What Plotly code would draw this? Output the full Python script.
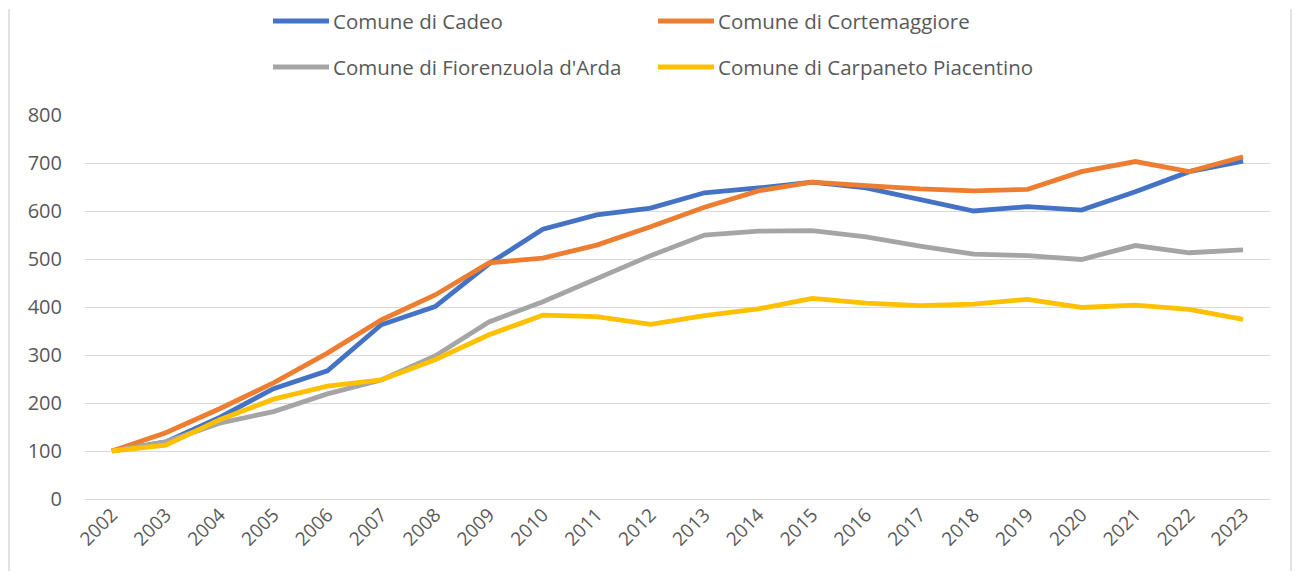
import plotly.graph_objects as go

years = [str(y) for y in range(2002, 2024)]

cadeo = [100, 119, 170, 230, 267, 363, 401, 490, 562, 592, 606, 638, 648, 660, 648, 624, 600, 609, 602, 640, 682, 704]
cortemaggiore = [100, 138, 188, 242, 304, 373, 425, 492, 502, 529, 567, 608, 642, 660, 653, 646, 642, 645, 682, 703, 682, 713]
fiorenzuola = [100, 119, 158, 182, 219, 248, 298, 369, 411, 460, 507, 550, 558, 559, 546, 527, 510, 507, 499, 528, 513, 519]
carpaneto = [100, 112, 165, 208, 235, 248, 290, 342, 383, 380, 364, 382, 396, 418, 408, 403, 406, 416, 399, 404, 395, 374]

names = ["Comune di Cadeo", "Comune di Cortemaggiore",
         "Comune di Fiorenzuola d'Arda", "Comune di Carpaneto Piacentino"]
series = [cadeo, cortemaggiore, fiorenzuola, carpaneto]
colors = ["#4472C4", "#ED7D31", "#A5A5A5", "#FFC000"]

FONT = "Open Sans, Lato, sans-serif"
TXT = "#595959"

OFF = 8  # page body margin
W, H = 1301 - 2 * OFF, 580 - 2 * OFF
L, T = 85 - OFF, 115 - OFF
R = W - (1270 - OFF)
B = H - (499 - OFF)
PW, PH = W - L - R, H - T - B

def px(x):  # reference page x -> paper
    return (x - OFF - L) / PW

def py(y):  # reference page y -> paper
    return (H - B - (y - OFF)) / PH

fig = go.Figure()
for name, vals, col in zip(names, series, colors):
    fig.add_trace(go.Scatter(x=years, y=vals, name=name, mode="lines",
                             line=dict(color=col, width=4.8), showlegend=False))

# manual legend (two rows, two columns)
legend_pos = [(273, 21), (658, 21), (273, 67), (658, 67)]
shapes = []
annotations = []
for (lx, ly), name, col in zip(legend_pos, names, colors):
    shapes.append(dict(type="line", xref="paper", yref="paper",
                       x0=px(lx), x1=px(lx + 56), y0=py(ly), y1=py(ly),
                       line=dict(color=col, width=5)))
    annotations.append(dict(text=name, xref="paper", yref="paper",
                            x=px(lx + 58), y=py(ly), xanchor="left", yanchor="middle",
                            showarrow=False, font=dict(family=FONT, size=20.5, color=TXT)))

# outer chart border (left and right edges visible)
for bx in (9, 1291):
    shapes.append(dict(type="line", xref="paper", yref="paper",
                       x0=px(bx), x1=px(bx), y0=py(571), y1=py(9),
                       line=dict(color="#D9D9D9", width=1.5), layer="above"))

fig.update_layout(
    width=W, height=H,
    margin=dict(l=L, r=R, t=T, b=B, autoexpand=False),
    paper_bgcolor="white", plot_bgcolor="white",
    font=dict(family=FONT, color=TXT),
    shapes=shapes, annotations=annotations,
    showlegend=False,
)
fig.update_xaxes(type="category", range=[-0.5, 21.5], tickangle=-45,
                 tickfont=dict(family=FONT, size=19, color=TXT),
                 showgrid=False, showline=False, zeroline=False, ticks="")
fig.update_yaxes(range=[0, 800], dtick=100, tick0=0,
                 tickfont=dict(family=FONT, size=20, color=TXT),
                 gridcolor="#D9D9D9", gridwidth=1, zeroline=True,
                 zerolinecolor="#D9D9D9", zerolinewidth=1,
                 showline=False, ticks="", ticklabelstandoff=22)

fig.write_html("out.html")
